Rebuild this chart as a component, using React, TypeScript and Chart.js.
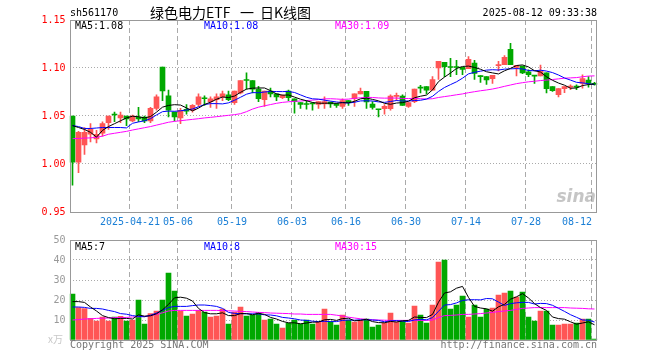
import React, { useEffect, useRef } from "react";
import { Chart, registerables } from "chart.js";
Chart.register(...registerables);

// ---------- DATA ----------
const dates = [
  "04-07","04-08","04-09","04-10","04-11","04-14","04-15","04-16","04-17","04-18",
  "04-21","04-22","04-23","04-24","04-25","04-28","04-29","04-30","05-06","05-07",
  "05-08","05-09","05-12","05-13","05-14","05-15","05-16","05-19","05-20","05-21",
  "05-22","05-23","05-26","05-27","05-28","05-29","05-30","06-03","06-04","06-05",
  "06-06","06-09","06-10","06-11","06-12","06-13","06-16","06-17","06-18","06-19",
  "06-20","06-23","06-24","06-25","06-26","06-27","06-30","07-01","07-02","07-03",
  "07-04","07-07","07-08","07-09","07-10","07-11","07-14","07-15","07-16","07-17",
  "07-18","07-21","07-22","07-23","07-24","07-25","07-28","07-29","07-30","07-31",
  "08-01","08-04","08-05","08-06","08-07","08-08","08-11","08-12"
];

const openP = [
  1.050,1.002,1.020,1.031,1.026,1.032,1.043,1.052,1.048,1.050,
  1.045,1.049,1.049,1.045,1.058,1.101,1.071,1.054,1.048,1.057,
  1.056,1.062,1.069,1.065,1.067,1.070,1.072,1.064,1.074,1.088,
  1.087,1.078,1.067,1.076,1.073,1.069,1.076,1.068,1.064,1.0625,
  1.063,1.062,1.0625,1.0646,1.063,1.060,1.066,1.068,1.073,1.0757,
  1.0625,1.057,1.0576,1.0576,1.0705,1.0708,1.060,1.065,1.0795,1.0806,
  1.077,1.100,1.106,1.101,1.101,1.1007,1.0993,1.105,1.0915,1.091,
  1.089,1.1025,1.1035,1.1194,1.1007,1.102,1.096,1.092,1.0917,1.095,
  1.0806,1.0722,1.0785,1.080,1.0805,1.084,1.0875,1.084
];
const highP = [
  1.050,1.034,1.038,1.042,1.035,1.044,1.050,1.054,1.054,1.050,
  1.051,1.059,1.050,1.059,1.072,1.101,1.077,1.054,1.058,1.062,
  1.062,1.073,1.071,1.070,1.073,1.076,1.076,1.076,1.087,1.095,
  1.087,1.081,1.076,1.079,1.073,1.072,1.077,1.068,1.064,1.066,
  1.064,1.065,1.070,1.0646,1.063,1.068,1.066,1.073,1.079,1.0757,
  1.065,1.057,1.062,1.072,1.074,1.072,1.064,1.078,1.082,1.0806,
  1.091,1.107,1.106,1.110,1.108,1.1007,1.112,1.108,1.092,1.091,
  1.0924,1.107,1.113,1.1257,1.1028,1.102,1.098,1.092,1.103,1.095,
  1.0806,1.0785,1.0806,1.0825,1.0825,1.093,1.091,1.085
];
const lowP = [
  0.978,0.991,1.010,1.023,1.022,1.029,1.036,1.044,1.043,1.040,
  1.044,1.044,1.043,1.043,1.056,1.066,1.049,1.045,1.042,1.052,
  1.054,1.060,1.061,1.059,1.058,1.066,1.066,1.062,1.073,1.078,
  1.074,1.065,1.060,1.070,1.066,1.068,1.066,1.053,1.058,1.057,
  1.056,1.058,1.058,1.059,1.059,1.058,1.061,1.060,1.073,1.058,
  1.057,1.049,1.052,1.056,1.066,1.061,1.059,1.064,1.074,1.073,
  1.077,1.088,1.091,1.091,1.093,1.093,1.0993,1.088,1.085,1.083,
  1.084,1.097,1.1035,1.1035,1.0917,1.094,1.091,1.084,1.0917,1.074,
  1.0755,1.070,1.0743,1.0775,1.0775,1.079,1.080,1.082
];
const closeP = [
  1.002,1.033,1.033,1.036,1.031,1.042,1.050,1.051,1.051,1.047,
  1.050,1.047,1.045,1.058,1.070,1.076,1.056,1.049,1.056,1.055,
  1.061,1.070,1.068,1.068,1.070,1.073,1.067,1.076,1.087,1.087,
  1.078,1.068,1.076,1.073,1.070,1.0715,1.069,1.065,1.062,1.062,
  1.0625,1.065,1.065,1.0625,1.061,1.066,1.064,1.073,1.0757,1.0646,
  1.059,1.0565,1.060,1.0708,1.071,1.061,1.064,1.078,1.079,1.077,
  1.088,1.107,1.1014,1.1005,1.1005,1.0986,1.109,1.0944,1.091,1.0875,
  1.0924,1.1035,1.111,1.1035,1.1028,1.095,1.093,1.0915,1.0965,1.0785,
  1.0764,1.0785,1.0806,1.0805,1.080,1.089,1.084,1.083
];

const ma5 = [
  1.040,1.038,1.036,1.033,1.028,1.035,1.039,1.042,1.045,1.048,
  1.0498,1.0492,1.048,1.0494,1.054,1.0592,1.061,1.0618,1.0614,1.0584,
  1.0554,1.0582,1.062,1.0644,1.0674,1.0698,1.0692,1.0708,1.0746,1.078,
  1.079,1.0792,1.0792,1.0764,1.073,1.0717,1.0719,1.0697,1.0675,1.0659,
  1.0641,1.0633,1.0633,1.0634,1.0632,1.0639,1.0637,1.0653,1.0679,1.0687,
  1.0673,1.0658,1.0632,1.0622,1.0635,1.0639,1.0654,1.069,1.0706,1.0718,
  1.0772,1.0858,1.0905,1.0948,1.0995,1.1016,1.102,1.1006,1.0987,1.0961,
  1.0949,1.0938,1.0971,1.0996,1.1026,1.1032,1.1011,1.0972,1.0958,1.0909,
  1.0872,1.0843,1.0821,1.0789,1.0792,1.0817,1.0828,1.0833
];
const ma10 = [
  1.040,1.039,1.037,1.037,1.0375,1.038,1.038,1.038,1.038,1.0376,
  1.0424,1.0438,1.045,1.0472,1.0511,1.0545,1.0551,1.0549,1.0554,1.0562,
  1.0573,1.0596,1.0619,1.0629,1.0629,1.0626,1.0637,1.0664,1.0695,1.0727,
  1.0744,1.0742,1.075,1.0755,1.0755,1.0754,1.0756,1.0745,1.072,1.0695,
  1.0679,1.0676,1.0665,1.0655,1.0646,1.064,1.0635,1.0643,1.0657,1.0659,
  1.0656,1.0647,1.0642,1.0651,1.0661,1.0656,1.0656,1.0661,1.0664,1.0676,
  1.0705,1.0756,1.0797,1.0827,1.0856,1.0894,1.0939,1.0955,1.0967,1.0978,
  1.0982,1.0979,1.0988,1.0991,1.0994,1.099,1.0974,1.0971,1.0977,1.0968,
  1.0952,1.0927,1.0896,1.0874,1.0851,1.0845,1.0836,1.0828
];
const ma30 = [
  1.0264,1.0266,1.027,1.0272,1.0278,1.029,1.031,1.032,1.033,1.034,
  1.0354,1.0366,1.0378,1.039,1.0405,1.042,1.0435,1.0444,1.0451,1.0458,
  1.0465,1.0472,1.048,1.0486,1.0493,1.050,1.0507,1.0514,1.0524,1.0545,
  1.0572,1.0592,1.0606,1.0619,1.0632,1.0642,1.0648,1.0653,1.0656,1.0661,
  1.0665,1.0671,1.0678,1.068,1.0677,1.0673,1.0676,1.0684,1.069,1.0694,
  1.0693,1.0688,1.0686,1.0687,1.0687,1.0683,1.0682,1.0683,1.068,1.0677,
  1.068,1.0693,1.0702,1.0711,1.0721,1.073,1.0743,1.0753,1.0763,1.0771,
  1.0781,1.0794,1.0809,1.0823,1.0837,1.0847,1.0856,1.0862,1.0869,1.0874,
  1.088,1.0887,1.0894,1.0897,1.090,1.0909,1.0916,1.0918
];

const volume = [
  23,16.2,15.7,10.8,9.5,11.5,9.5,11.5,11.8,9.5,
  10,20,8,13.2,14.5,20,33.5,24.5,14.5,12,
  13,14.8,14,11.5,12,15.5,8,14,16.5,12,
  12.5,13.8,10,10.5,8,6,8.5,10,8,10,
  8,9,15.5,9.2,7.5,12.5,10,9,10,10.5,
  6.5,7.5,8.5,13.5,9,9.5,8.5,17,12.5,8.5,
  17.5,39,40,15.5,17.5,22,11.5,17.5,11.5,15.5,
  16,22.5,23.5,24.5,21.5,24,11.5,9.5,14.5,14.5,
  7.5,7.5,8,8,8.5,10.5,10.5,0.5
];
const vma5 = [
  19.2,19.2,18.8,16.5,14.5,12.2,11.2,10.6,10.8,10.8,
  10.5,12.6,11.9,12.1,13.1,15.1,17.8,21.1,21.4,20.9,
  19.5,15.8,13.7,13.1,13.1,13.6,12.2,12.2,13.2,13.2,
  12.6,13.3,12.8,11.3,10.5,9.3,8.6,8.6,8.1,8.5,
  8.9,9,10.1,10.3,9.8,10.7,10.9,9.6,9.8,10.4,
  9.2,8.7,8.6,9.3,9,9.6,9.8,11.5,11.3,11.2,
  12.8,18.9,23.5,24.1,25.9,26.8,21.3,16.8,16,15.6,
  14.4,16.6,17.8,20.4,21.6,23.2,21,18.2,16.2,14.8,
  11.5,10.7,10.4,9.1,7.9,8.5,9.1,7.6
];
const vma10 = [
  16.5,16.5,16.3,15.8,15.8,15.5,14.8,14.2,13.2,12.9,
  12.2,11.8,11.6,12.4,13.5,14.8,16.2,16.8,16.8,16.8,
  17.2,17.5,17.5,17.2,16.8,15.8,13.8,13.3,13.2,13.1,
  13.1,13,12.6,12.5,12.1,11.3,11,10.6,10,9.8,
  9.4,9.2,9.35,9.2,9.2,9.8,10,9.9,10.1,10.1,
  10,9.8,9.1,9.6,9.7,9.4,9.25,10.05,10.3,10.1,
  11.2,14.35,17.5,17.7,18.55,19.8,20.1,20.15,20.05,20.75,
  20.6,18.95,17.3,18.2,18.6,18.8,18.8,18,18.3,18.2,
  17.35,15.85,14.3,12.65,11.35,10,9.9,9
];
const vma30 = [
  10,10.2,10.5,10.6,10.8,10.9,11,11.2,11.2,11.3,
  11.5,11.6,11.8,12.2,12.8,13.6,14.5,14.8,14.8,14.8,
  14.8,14.8,14.8,14.8,14.8,14.7,14.6,14.5,14.3,14.2,
  14,13.8,13.7,13.5,13.4,13.3,13.2,13,13,12.8,
  12.8,12.8,12.8,12.8,12.4,12,11.4,11,10.6,10.3,
  10.1,10,9.9,9.8,9.8,9.8,9.8,9.8,9.8,9.8,
  10,11.2,12.2,12.3,12.5,12.8,12.8,13,13.2,13.5,
  13.8,14.2,14.5,14.8,15.3,15.8,16,16.2,16.2,16.2,
  16.2,16.2,16.2,16,15.9,15.8,15.6,15.5
];

const priceTicks = [0.95, 1.0, 1.05, 1.1, 1.15];
const volTicks = [0, 10, 20, 30, 40, 50];
const dateTickIdx = [10, 18, 27, 37, 46, 56, 66, 76, 87];
const dateTickLabels = ["2025-04-21", "05-06", "05-19", "06-03", "06-16", "06-30", "07-14", "07-28", "08-12"];

const symbolText = "sh561170";
const titleText = "绿色电力ETF 一 日K线图";
const timeText = "2025-08-12 09:33:38";
const priceMaLabels = ["MA5:1.08", "MA10:1.08", "MA30:1.09"];
const volMaLabels = ["MA5:7", "MA10:8", "MA30:15"];

// ---------- STYLE ----------
const RED = "#ff5555";
const GREEN = "#00a800";
const MA_COLORS = ["#000000", "#0000ff", "#ff00ff"];
const MONO = '"DejaVu Sans Mono", monospace';
const GRID = "#aaaaaa";
const TITLE_X = [150, 240, 260];

function txt(ctx: CanvasRenderingContext2D, s: string, x: number, y: number, color: string, font: string, align: CanvasTextAlign = "left") {
  ctx.fillStyle = color;
  ctx.font = font;
  ctx.textAlign = align;
  ctx.textBaseline = "middle";
  ctx.fillText(s, x, y);
}

function frame(chart: any) {
  const { ctx, chartArea: a } = chart;
  ctx.save();
  ctx.strokeStyle = "#999999";
  ctx.lineWidth = 1;
  ctx.setLineDash([]);
  const L = Math.round(a.left) + 0.5;
  const R = Math.floor(a.right) - 0.5;
  const T = Math.round(a.top) + 0.5;
  const B = Math.round(a.bottom) + 0.5;
  ctx.strokeRect(L, T, R - L, B - T);
  ctx.restore();
}

const isUp = closeP.map((c, i) => c >= openP[i]);
const candleColors = isUp.map((u) => (u ? RED : GREEN));

function xScaleOpts(h: number) {
  return {
    type: "category" as const,
    offset: true,
    ticks: { display: false, autoSkip: false },
    grid: {
      offset: true,
      drawTicks: false,
      lineWidth: 1,
      color: (c: any) => (dateTickIdx.includes(c.index) ? GRID : "rgba(0,0,0,0)"),
    },
    border: { display: false, dash: [5, 3] },
    afterFit: (s: any) => { s.height = h; },
  };
}

export default function App() {
  const priceRef = useRef<HTMLCanvasElement>(null);
  const volRef = useRef<HTMLCanvasElement>(null);

  useEffect(() => {
    const lineDs = (label: string, data: number[], color: string) => ({
      type: "line" as const,
      label,
      data,
      borderColor: color,
      borderWidth: 1,
      pointRadius: 0,
      tension: 0,
      fill: false,
      order: 0,
    });

    const priceText = {
      id: "priceText",
      afterDraw(chart: any) {
        frame(chart);
        const ctx = chart.ctx as CanvasRenderingContext2D;
        const xs = chart.scales.x;
        ctx.save();
        const f = `10px ${MONO}`;
        txt(ctx, symbolText, 70, 13, "#000", f);
        titleText.split(" ").forEach((seg, k) => {
          txt(ctx, seg, TITLE_X[k], 13, "#000", `14px "Noto Sans CJK SC", sans-serif`);
        });
        txt(ctx, timeText, 597, 13, "#000", f, "right");
        txt(ctx, priceMaLabels[0], 75, 26, MA_COLORS[0], f);
        txt(ctx, priceMaLabels[1], 204, 26, MA_COLORS[1], f);
        txt(ctx, priceMaLabels[2], 335, 26, MA_COLORS[2], f);
        dateTickIdx.forEach((idx, k) => {
          const x = Math.round(xs.getPixelForValue(idx) - 3);
          const last = k === dateTickIdx.length - 1;
          txt(ctx, dateTickLabels[k], x, 222, "#1a7fd6", f, last ? "right" : "center");
        });
        txt(ctx, "sina", 596, 198, "rgba(150,150,150,0.55)", `italic bold 17px "DejaVu Sans", sans-serif`, "right");
        ctx.restore();
      },
    };

    const volText = {
      id: "volText",
      afterDraw(chart: any) {
        frame(chart);
        const ctx = chart.ctx as CanvasRenderingContext2D;
        ctx.save();
        const f = `10px ${MONO}`;
        txt(ctx, volMaLabels[0], 75, 17, MA_COLORS[0], f);
        txt(ctx, volMaLabels[1], 204, 17, MA_COLORS[1], f);
        txt(ctx, volMaLabels[2], 335, 17, MA_COLORS[2], f);
        txt(ctx, "x万", 48, 109, "#c8c8c8", `10px "Noto Sans CJK SC", sans-serif`);
        txt(ctx, "Copyright 2025 SINA.COM", 70, 115, "#777", f);
        txt(ctx, "http://finance.sina.com.cn", 597, 115, "#777", f, "right");
        ctx.restore();
      },
    };

    const c1 = new Chart(priceRef.current as HTMLCanvasElement, {
      type: "bar",
      data: {
        labels: dates,
        datasets: [
          lineDs("MA5", ma5, MA_COLORS[0]),
          lineDs("MA10", ma10, MA_COLORS[1]),
          lineDs("MA30", ma30, MA_COLORS[2]),
          {
            type: "bar",
            label: "body",
            data: openP.map((o, i) => [Math.min(o, closeP[i]), Math.max(o, closeP[i])]),
            backgroundColor: candleColors,
            borderWidth: 0,
            barThickness: 5,
            grouped: false,
            minBarLength: 1,
            order: 1,
          } as any,
          {
            type: "bar",
            label: "wick",
            data: lowP.map((l, i) => [l, highP[i]]),
            backgroundColor: candleColors,
            borderWidth: 0,
            barThickness: 1,
            grouped: false,
            order: 2,
          } as any,
        ],
      },
      options: {
        responsive: false,
        animation: false,
        devicePixelRatio: 1,
        events: [],
        layout: { padding: { top: 20, right: 62.5, left: 0, bottom: 0 } },
        plugins: { legend: { display: false }, tooltip: { enabled: false } },
        scales: {
          x: xScaleOpts(18) as any,
          y: {
            type: "linear",
            min: 0.95,
            max: 1.15,
            afterBuildTicks: (s: any) => { s.ticks = priceTicks.map((v) => ({ value: v })); },
            afterFit: (s: any) => { s.width = 69.5; },
            ticks: {
              color: "#ff0000",
              padding: 4,
              font: { family: MONO, size: 10 },
              callback: (v: any) => Number(v).toFixed(2),
            },
            grid: { color: GRID, drawTicks: false, lineWidth: 1 },
            border: { display: false, dash: [1, 2] },
          } as any,
        },
      },
      plugins: [priceText],
    } as any);

    const c2 = new Chart(volRef.current as HTMLCanvasElement, {
      type: "bar",
      data: {
        labels: dates,
        datasets: [
          lineDs("MA5", vma5, MA_COLORS[0]),
          lineDs("MA10", vma10, MA_COLORS[1]),
          lineDs("MA30", vma30, MA_COLORS[2]),
          {
            type: "bar",
            label: "volume",
            data: volume,
            backgroundColor: candleColors,
            borderWidth: 0,
            barThickness: 5,
            grouped: false,
            order: 1,
          } as any,
        ],
      },
      options: {
        responsive: false,
        animation: false,
        devicePixelRatio: 1,
        events: [],
        layout: { padding: { top: 10, right: 62.5, left: 0, bottom: 0 } },
        plugins: { legend: { display: false }, tooltip: { enabled: false } },
        scales: {
          x: xScaleOpts(20) as any,
          y: {
            type: "linear",
            min: 0,
            max: 50,
            afterBuildTicks: (s: any) => { s.ticks = volTicks.map((v) => ({ value: v })); },
            afterFit: (s: any) => { s.width = 69.5; },
            ticks: {
              color: "#999999",
              padding: 4,
              font: { family: MONO, size: 10 },
              callback: (v: any) => (Number(v) === 0 ? "" : String(v)),
            },
            grid: { color: GRID, drawTicks: false, lineWidth: 1 },
            border: { display: false, dash: [1, 2] },
          } as any,
        },
      },
      plugins: [volText],
    } as any);

    return () => {
      c1.destroy();
      c2.destroy();
    };
  }, []);

  return (
    <div style={{ position: "fixed", left: 0, top: 0, width: 660, height: 360, background: "#fff" }}>
      <canvas ref={priceRef} width={660} height={230} style={{ position: "absolute", left: 0, top: 0, width: 660, height: 230 }} />
      <canvas ref={volRef} width={660} height={130} style={{ position: "absolute", left: 0, top: 230, width: 660, height: 130 }} />
    </div>
  );
}
